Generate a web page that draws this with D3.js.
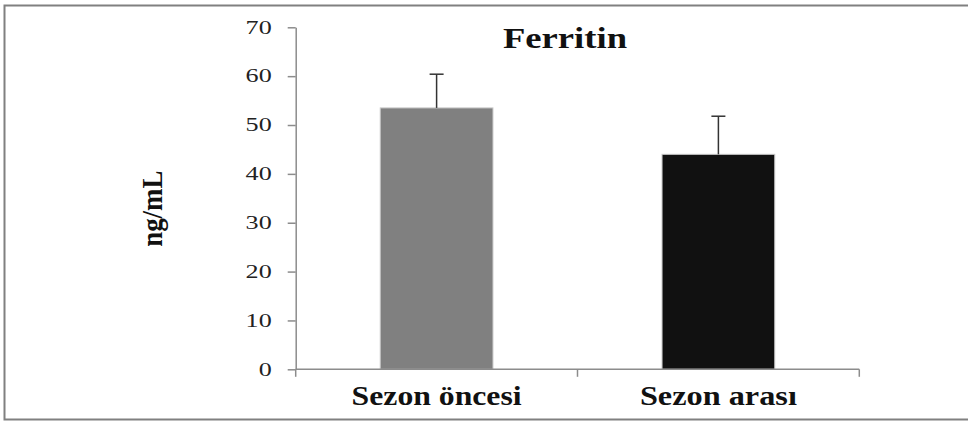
<!DOCTYPE html>
<html><head><meta charset="utf-8">
<script src="https://cdn.jsdelivr.net/npm/d3@7"></script>
<style>html,body{margin:0;padding:0;background:#fff;}svg{display:block;}</style>
</head><body>
<svg id="chart" width="968" height="421"></svg>
<script>
const categories = ["Sezon öncesi", "Sezon arası"];
const means = [53.5, 44.0];
const errors = [6.9, 7.8];
const barColors = ["#808080", "#111111"];
const yTicks = [0, 10, 20, 30, 40, 50, 60, 70];
const title = "Ferritin";
const yLabel = "ng/mL";

const svg = d3.select("#chart");
const serif = "Liberation Serif, Times New Roman, serif";

// outer frame
svg.append("path").attr("d", "M968,5.5 H4.5 V419.5 H968")
  .attr("fill", "none").attr("stroke", "#808080").attr("stroke-width", 2);

const x = d3.scaleBand().domain(categories).range([295.7, 859.3]).paddingInner(0.6).paddingOuter(0.3);
const y = d3.scaleLinear().domain([0, 70]).range([369.3, 27.3]);

// bars
svg.selectAll("rect.bar").data(categories).enter().append("rect")
  .attr("x", d => x(d)).attr("width", x.bandwidth())
  .attr("y", (d, i) => y(means[i])).attr("height", (d, i) => y(0) - y(means[i]))
  .attr("fill", (d, i) => barColors[i]).attr("stroke", "#c8c8c8").attr("stroke-width", 1);

// error bars
const eb = svg.selectAll("g.err").data(categories).enter().append("g").attr("stroke", "#333").attr("stroke-width", 1.5);
eb.append("line").attr("x1", d => x(d) + x.bandwidth() / 2).attr("x2", d => x(d) + x.bandwidth() / 2)
  .attr("y1", (d, i) => y(means[i])).attr("y2", (d, i) => y(means[i] + errors[i]));
eb.append("line").attr("x1", d => x(d) + x.bandwidth() / 2 - 7).attr("x2", d => x(d) + x.bandwidth() / 2 + 7)
  .attr("y1", (d, i) => y(means[i] + errors[i])).attr("y2", (d, i) => y(means[i] + errors[i]));

// y axis
const yAxis = svg.append("g").attr("transform", "translate(295.7,0)")
  .call(d3.axisLeft(y).tickValues(yTicks).tickSize(8).tickSizeOuter(0).tickPadding(16));
yAxis.select(".domain").attr("stroke", "#8c8c8c").attr("stroke-width", 1.5);
yAxis.selectAll(".tick line").attr("stroke", "#8c8c8c").attr("stroke-width", 1.5);
yAxis.selectAll(".tick text").attr("font-family", serif).attr("font-size", 18).attr("fill", "#222")
  .each(function () { const w = this.getComputedTextLength(); d3.select(this).attr("textLength", w * 1.45).attr("lengthAdjust", "spacingAndGlyphs"); });

// x axis
const xAxis = svg.append("g").attr("stroke", "#8c8c8c").attr("stroke-width", 1.5);
xAxis.append("line").attr("x1", x.range()[0]).attr("x2", x.range()[1]).attr("y1", y(0)).attr("y2", y(0));
const bounds = categories.map(d => x(d) - x.step() * x.paddingOuter()).concat([x.range()[1]]);
xAxis.selectAll("line.t").data(bounds).enter().append("line")
  .attr("x1", d => d).attr("x2", d => d).attr("y1", y(0)).attr("y2", y(0) + 7.5);

// x labels
const xLabelWidths = [170, 157];
svg.selectAll("text.xl").data(categories).enter().append("text")
  .attr("x", d => x(d) + x.bandwidth() / 2).attr("y", 405)
  .attr("text-anchor", "middle").attr("font-family", serif).attr("font-weight", "bold").attr("font-size", 27).attr("fill", "#111")
  .attr("textLength", (d, i) => xLabelWidths[i]).attr("lengthAdjust", "spacingAndGlyphs")
  .text(d => d);

// title
svg.append("text").attr("x", 565).attr("y", 48).attr("text-anchor", "middle")
  .attr("font-family", serif).attr("font-weight", "bold").attr("font-size", 29).attr("fill", "#111")
  .attr("textLength", 124).attr("lengthAdjust", "spacingAndGlyphs").text(title);

// y label
svg.append("text").attr("transform", "translate(162,208.7) rotate(-90)").attr("text-anchor", "middle")
  .attr("font-family", serif).attr("font-weight", "bold").attr("font-size", 29).attr("fill", "#111")
  .attr("textLength", 76).attr("lengthAdjust", "spacingAndGlyphs").text(yLabel);
</script>
</body></html>
